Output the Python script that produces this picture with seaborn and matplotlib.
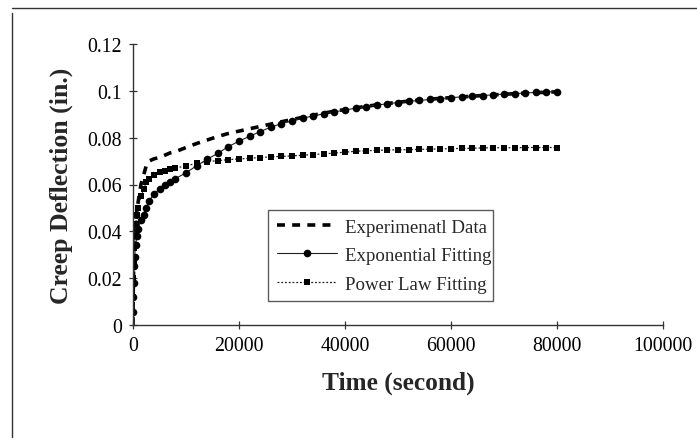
import matplotlib
matplotlib.use("Agg")
import matplotlib.pyplot as plt
from matplotlib.lines import Line2D
import seaborn as sns
import pandas as pd

# ---------------- data ----------------
time_s = [0, 50, 100, 200, 300, 500, 700, 1000, 1500, 2000, 2500, 3000, 4000,
          5000, 6000, 7000, 8000, 10000, 12000, 14000, 16000, 18000, 20000,
          22000, 24000, 26000, 28000, 30000, 32000, 34000, 36000, 38000, 40000,
          42000, 44000, 46000, 48000, 50000, 52000, 54000, 56000, 58000, 60000,
          62000, 64000, 66000, 68000, 70000, 72000, 74000, 76000, 78000, 80000]

experimental = [0.0, 0.015, 0.022, 0.030, 0.036, 0.043, 0.048, 0.053, 0.060,
                0.064, 0.068, 0.070, 0.071, 0.0715, 0.0725, 0.0735, 0.074,
                0.0758, 0.0775, 0.079, 0.0805, 0.0818, 0.0828, 0.0838, 0.0848,
                0.0858, 0.0868, 0.0877, 0.0887, 0.0896, 0.0905, 0.0913, 0.092,
                0.0927, 0.0934, 0.094, 0.0946, 0.0951, 0.0956, 0.096, 0.0964,
                0.0968, 0.0971, 0.0974, 0.0977, 0.098, 0.0983, 0.0985, 0.0988,
                0.099, 0.0992, 0.0994, 0.0996]

exponential_fit = [0.0056, 0.012, 0.018, 0.025, 0.029, 0.034, 0.038, 0.041,
                   0.045, 0.047, 0.050, 0.053, 0.056, 0.058, 0.060, 0.061,
                   0.0625, 0.065, 0.068, 0.0708, 0.0733, 0.0762, 0.0785,
                   0.0806, 0.0826, 0.0845, 0.0860, 0.0872, 0.0883, 0.0893,
                   0.0902, 0.0910, 0.0918, 0.0926, 0.0933, 0.0939, 0.0945,
                   0.095, 0.0955, 0.0959, 0.0963, 0.0967, 0.0971, 0.0974,
                   0.0977, 0.098, 0.0983, 0.0986, 0.0988, 0.0991, 0.0993,
                   0.0995, 0.0997]

power_law_fit = [0.012, 0.020, 0.026, 0.033, 0.038, 0.043, 0.047, 0.050, 0.055,
                 0.058, 0.061, 0.0625, 0.064, 0.0652, 0.0658, 0.0665, 0.067,
                 0.068, 0.069, 0.0697, 0.0702, 0.0706, 0.0709, 0.0712, 0.0715,
                 0.0718, 0.072, 0.0722, 0.0725, 0.0728, 0.0731, 0.0734, 0.0738,
                 0.0742, 0.0744, 0.0746, 0.0747, 0.0748, 0.0749, 0.075, 0.0751,
                 0.0752, 0.0753, 0.0754, 0.0755, 0.0756, 0.0757, 0.0757,
                 0.0757, 0.0758, 0.0758, 0.0758, 0.0758]

series_names = ["Experimenatl Data", "Exponential Fitting", "Power Law Fitting"]

x_ticks = [0, 20000, 40000, 60000, 80000, 100000]
x_tick_labels = ["0", "20000", "40000", "60000", "80000", "100000"]
y_ticks = [0, 0.02, 0.04, 0.06, 0.08, 0.10, 0.12]
y_tick_labels = ["0", "0.02", "0.04", "0.06", "0.08", "0.1", "0.12"]

x_label = "Time (second)"
y_label = "Creep Deflection (in.)"

# ---------------- figure ----------------
sns.set_theme(style="white")
plt.rcParams["font.family"] = ["Liberation Serif", "DejaVu Serif"]

fig = plt.figure(figsize=(6.97, 4.39), dpi=100)
ax = fig.add_axes([133 / 697, (439 - 326) / 439, 530 / 697, 281 / 439])

df_exp = pd.DataFrame({"t": time_s, "d": experimental})
df_ef = pd.DataFrame({"t": time_s, "d": exponential_fit})
df_pf = pd.DataFrame({"t": time_s, "d": power_law_fit})

sns.lineplot(data=df_exp, x="t", y="d", ax=ax, color="black", linewidth=2.6,
             linestyle=(0, (2.2, 2.0)), label=series_names[0])
sns.lineplot(data=df_ef, x="t", y="d", ax=ax, color="#222222", linewidth=0.8,
             marker="o", markersize=5.5, markeredgewidth=0,
             markerfacecolor="black", label=series_names[1])
sns.lineplot(data=df_pf, x="t", y="d", ax=ax, color="#222222", linewidth=0.9,
             linestyle=(0, (1.5, 1.5)), marker="s", markersize=4,
             markeredgewidth=0, markerfacecolor="black",
             label=series_names[2])

ax.set_xlim(0, 100000)
ax.set_ylim(0, 0.12)
ax.set_xticks(x_ticks)
ax.set_xticklabels(x_tick_labels)
ax.set_yticks(y_ticks)
ax.set_yticklabels(y_tick_labels)

for s in ["top", "right"]:
    ax.spines[s].set_visible(False)
for s in ["left", "bottom"]:
    ax.spines[s].set_color("#333333")
    ax.spines[s].set_linewidth(1.0)

ax.tick_params(axis="both", which="both", direction="inout", length=6,
               width=0.9, color="#333333", labelsize=14.3, labelcolor="black",
               left=True, bottom=True)
ax.tick_params(axis="x", pad=5)
ax.tick_params(axis="y", pad=5)

ax.set_xlabel(x_label, fontsize=18.3, fontweight="bold", labelpad=11)
ax.set_ylabel(y_label, fontsize=18.5, fontweight="bold", labelpad=10)

leg = ax.legend(loc="lower left", bbox_to_anchor=(0.255, 0.085, 0.424, 0.335),
                mode="expand", fontsize=13.6, frameon=True, fancybox=False,
                handlelength=3.2, handletextpad=0.4, borderpad=0.45,
                labelspacing=0.6, numpoints=1, borderaxespad=0)
leg.get_frame().set_edgecolor("#333333")
leg.get_frame().set_linewidth(1.0)
leg.get_frame().set_facecolor("white")

# scanned page border (left and top rules)
fig.add_artist(Line2D([12 / 697, 12 / 697], [0.0, 1 - 14 / 439],
                      transform=fig.transFigure, color="#333333", lw=1.0))
fig.add_artist(Line2D([12 / 697, 1.0], [1 - 9 / 439, 1 - 9 / 439],
                      transform=fig.transFigure, color="#333333", lw=1.0))

fig.savefig("out.png", dpi=100)
